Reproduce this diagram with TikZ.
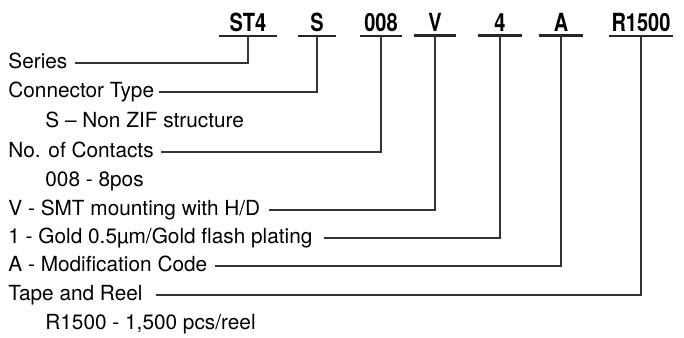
\documentclass[tikz,border=0pt]{standalone}
\usepackage{fontspec}
\setmainfont{TeX Gyre Heros}
\newfontfamily\hdrfont[FakeStretch=0.8]{TeX Gyre Heros}
\usetikzlibrary{positioning,calc}
\tikzset{
  code/.style={font=\hdrfont\bfseries\fontsize{12.5pt}{14pt}\selectfont,anchor=base,
               inner xsep=0pt,inner ysep=2pt},
  lab/.style ={font=\fontsize{10.4pt}{12pt}\selectfont,anchor=base west,inner sep=0pt},
  uline/.style={line width=1.1pt,black!85},
  lead/.style={line width=.55pt,black!80},
}

\begin{document}
\begin{tikzpicture}[x=.5pt,y=-.5pt]
  \useasboundingbox (0,0) rectangle (684,337);
  % part number fields
  \node[code,minimum width=28.5pt] (cST4) at (248,31) {ST4};
  \node[code,minimum width=19pt]   (cS)   at (317,31) {S};
  \node[code,minimum width=20.5pt] (c008) at (381,31) {008};
  \node[code,minimum width=21pt]   (cV)   at (435,31) {V};
  \node[code,minimum width=22pt]   (c4)   at (500,31) {4};
  \node[code,minimum width=22pt]   (cA)   at (561,31) {A};
  \node[code,minimum width=31.5pt] (cR)   at (641,31) {R1500};
  % descriptions
  \node[lab] (ser) at (8,68)  {Series};
  \node[lab] (con) at (8,97)  {Connector Type};
  \node[lab] (nzf) at (45,127) {S -- Non ZIF structure};
  \node[lab] (cnt) at (8,157) {No. of Contacts};
  \node[lab] (pos) at (45,186) {008 - 8pos};
  \node[lab] (mnt) at (8,215) {V - SMT mounting with H/D};
  \node[lab] (plt) at (8,243) {1 - Gold 0.5µm/Gold flash plating};
  \node[lab] (mod) at (8,271) {A - Modification Code};
  \node[lab] (tap) at (8,300) {Tape and Reel};
  \node[lab] (ree) at (45,329) {R1500 - 1,500 pcs/reel};
  \foreach \c in {cST4,cS,c008,cV,c4,cA,cR}
     \draw[uline] (\c.south west)--(\c.south east);
  \foreach \a/\b/\g in {ser/cST4/3.5,con/cS/2.5,cnt/c008/3.5,mnt/cV/4,
                        plt/c4/5.5,mod/cA/3.5,tap/cR/6.5}
     \draw[lead] ([xshift=\g pt,yshift=2.5pt]\a.base east) -| (\b.south);
\end{tikzpicture}
\end{document}
